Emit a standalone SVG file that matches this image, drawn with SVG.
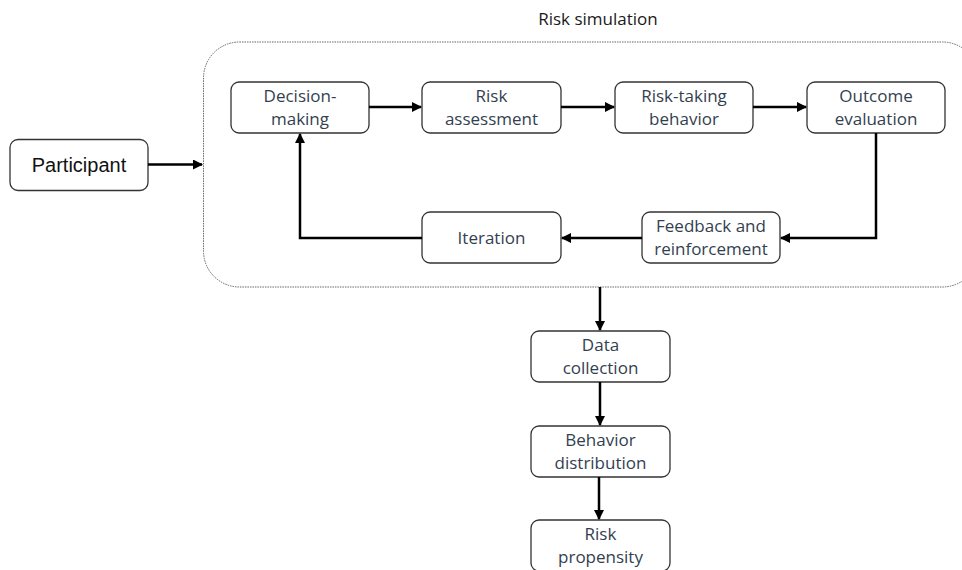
<svg xmlns="http://www.w3.org/2000/svg" width="962" height="570" viewBox="0 0 962 570">
<defs>
<marker id="ah" viewBox="0 0 10 10" refX="9" refY="5" markerWidth="4" markerHeight="4" orient="auto" markerUnits="strokeWidth">
<path d="M0,0 L10,5 L0,10 z" fill="#000"/>
</marker>
<style>
.box{fill:#fff;stroke:#333;stroke-width:1.3}
.t{font-family:"Open Sans","Liberation Sans",sans-serif;font-size:17px;fill:#333f50;text-anchor:middle}
.h{font-family:"Open Sans","Liberation Sans",sans-serif;font-size:17px;fill:#1a1a1a;text-anchor:middle}
.p{font-family:"Liberation Sans",Arial,sans-serif;font-size:20px;fill:#111;text-anchor:middle}
.c{fill:none;stroke:#000;stroke-width:2.5;marker-end:url(#ah)}
</style>
</defs>
<rect width="962" height="570" fill="#fff"/>
<g id="container">
<rect x="203.5" y="42" width="775" height="245" rx="36" fill="none" stroke="#666" stroke-width="1" stroke-dasharray="1.5 1"/>
<text class="h" x="598" y="25">Risk simulation</text>
</g>
<g id="participant"><rect class="box" x="10" y="139.5" width="138" height="51" rx="8"/><text class="p" x="79" y="172">Participant</text></g>
<g id="decision"><rect class="box" x="231" y="82" width="138" height="51" rx="8"/><text class="t" x="300" y="102">Decision-</text><text class="t" x="300" y="125">making</text></g>
<g id="assessment"><rect class="box" x="422" y="82" width="139" height="51" rx="8"/><text class="t" x="491.5" y="102">Risk</text><text class="t" x="491.5" y="125">assessment</text></g>
<g id="behavior"><rect class="box" x="615" y="82" width="138" height="51" rx="8"/><text class="t" x="684" y="102">Risk-taking</text><text class="t" x="684" y="125">behavior</text></g>
<g id="outcome"><rect class="box" x="807" y="82" width="138" height="51" rx="8"/><text class="t" x="876" y="102">Outcome</text><text class="t" x="876" y="125">evaluation</text></g>
<g id="feedback"><rect class="box" x="642" y="212" width="138" height="51" rx="8"/><text class="t" x="711" y="232">Feedback and</text><text class="t" x="711" y="255">reinforcement</text></g>
<g id="iteration"><rect class="box" x="422" y="212" width="139" height="51" rx="8"/><text class="t" x="491.5" y="244">Iteration</text></g>
<g id="data"><rect class="box" x="531" y="331" width="139" height="51" rx="8"/><text class="t" x="600.5" y="351">Data</text><text class="t" x="600.5" y="374">collection</text></g>
<g id="distribution"><rect class="box" x="531" y="426" width="139" height="51" rx="8"/><text class="t" x="600.5" y="446">Behavior</text><text class="t" x="600.5" y="469">distribution</text></g>
<g id="propensity"><rect class="box" x="531" y="520" width="139" height="51" rx="8"/><text class="t" x="600.5" y="540">Risk</text><text class="t" x="600.5" y="563">propensity</text></g>
<g id="connectors">
<path class="c" d="M148,164.5 H202"/>
<path class="c" d="M369,107 H421"/>
<path class="c" d="M561,107 H614"/>
<path class="c" d="M753,107 H806"/>
<path class="c" d="M876,133 V238 H781"/>
<path class="c" d="M642,238 H562"/>
<path class="c" d="M422,238 H300 V134"/>
<path class="c" d="M600,287 V330"/>
<path class="c" d="M600,382 V425"/>
<path class="c" d="M599,477 V519"/>
</g>
</svg>
